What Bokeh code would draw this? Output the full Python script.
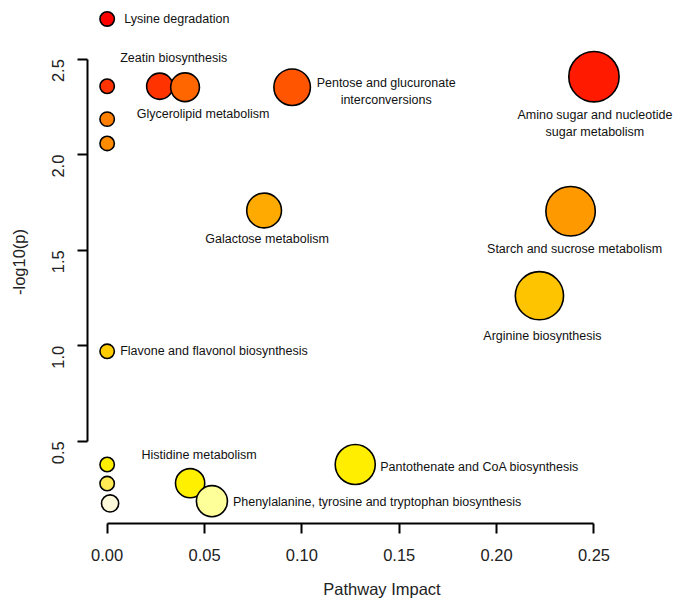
import math
from bokeh.plotting import figure
from bokeh.models import Range1d, FixedTicker, ColumnDataSource, NumeralTickFormatter
from bokeh.embed import file_html
from bokeh.resources import INLINE
from bokeh.core.properties import value

# ---- data ----
pathways = [
    "Lysine degradation", "", "", "",
    "Zeatin biosynthesis", "Glycerolipid metabolism",
    "Pentose and glucuronate\ninterconversions",
    "Amino sugar and nucleotide\nsugar metabolism",
    "Galactose metabolism", "Starch and sucrose metabolism",
    "Arginine biosynthesis", "Flavone and flavonol biosynthesis",
    "", "", "",
    "Histidine metabolism",
    "Phenylalanine, tyrosine and tryptophan biosynthesis",
    "Pantothenate and CoA biosynthesis",
]
impact = [0.0, 0.0, 0.0, 0.0,
          0.027, 0.040, 0.095, 0.250,
          0.0806, 0.238, 0.222, 0.0,
          0.0, 0.0, 0.0015,
          0.0426, 0.0538, 0.1274]
neglogp = [2.710, 2.358, 2.186, 2.059,
           2.358, 2.353, 2.353, 2.408,
           1.708, 1.704, 1.262, 0.971,
           0.379, 0.279, 0.175,
           0.281, 0.187, 0.379]
fill_colors = ["#FF0000", "#FF3300", "#FF8000", "#FF8C00",
               "#FF3300", "#FF6600", "#FF5500", "#FF1A00",
               "#FFAA00", "#FF9900", "#FFC400", "#FFCC00",
               "#FFEE00", "#FFEA55", "#FFF9DC",
               "#FFF000", "#FFFF99", "#FFEE00"]
x_ticks = [0.0, 0.05, 0.10, 0.15, 0.20, 0.25]
y_ticks = [0.5, 1.0, 1.5, 2.0, 2.5]

# ---- label layout (pixel offsets from each point) ----
label_dx = [17, 0, 0, 0, 14, 18, 94, 1, 3, 4, 3, 13, 0, 0, 0, 9, 21, 25]
label_dy = [0, 0, 0, 0, -28, 27, 4, 47, 29, 38, 40, 0, 0, 0, 0, -28, 1, 3]
label_align = ["left", "left", "left", "left", "center", "center", "center", "center",
               "center", "center", "center", "left", "left", "left", "left",
               "center", "left", "left"]

FONT = "Liberation Sans"

radius_px = [7.2 + 35.9 * math.sqrt(v) for v in impact]

pts = ColumnDataSource(dict(x=impact, y=neglogp, c=fill_colors,
                            s=[2 * r for r in radius_px]))

def label_source(align):
    idx = [i for i, t in enumerate(pathways) if t and label_align[i] == align]
    return ColumnDataSource(dict(
        x=[impact[i] for i in idx], y=[neglogp[i] for i in idx],
        t=[pathways[i] for i in idx],
        dx=[label_dx[i] for i in idx], dy=[label_dy[i] for i in idx]))

p = figure(width=676, height=600, output_backend="svg", toolbar_location=None,
           x_range=Range1d(-0.0101, 0.2924), y_range=Range1d(0.0702, 2.8067),
           min_border_left=87, min_border_right=0, min_border_top=0,
           min_border_bottom=76)
p.outline_line_color = None
p.grid.visible = False
p.background_fill_color = "white"
p.border_fill_color = "white"

p.scatter("x", "y", source=pts, size="s", fill_color="c",
          line_color="black", line_width=1.6)

for al in ("left", "center"):
    p.text("x", "y", text="t", source=label_source(al), x_offset="dx", y_offset="dy",
           text_align=al, text_baseline="middle", text_font=value(FONT),
           text_font_size="12.5px", text_color="#111111", text_line_height=1.2)

for ax in (p.xaxis[0], p.yaxis[0]):
    ax.axis_line_width = 2
    ax.axis_line_color = "black"
    ax.major_tick_line_width = 2
    ax.major_tick_line_color = "black"
    ax.major_tick_out = 10
    ax.major_tick_in = 0
    ax.minor_tick_line_color = None
    ax.major_label_text_font = FONT
    ax.major_label_text_font_size = "16.5px"
    ax.major_label_text_color = "#222222"
    ax.axis_label_text_font = FONT
    ax.axis_label_text_font_size = "16.5px"
    ax.axis_label_text_font_style = "normal"
    ax.axis_label_text_color = "#222222"

p.xaxis.bounds = (x_ticks[0], x_ticks[-1])
p.xaxis.ticker = FixedTicker(ticks=x_ticks)
p.xaxis.formatter = NumeralTickFormatter(format="0.00")
p.xaxis.axis_label = "Pathway Impact"
p.xaxis.major_label_standoff = 15
p.xaxis.axis_label_standoff = 16

p.yaxis.bounds = (y_ticks[0], y_ticks[-1])
p.yaxis.ticker = FixedTicker(ticks=y_ticks)
p.yaxis.formatter = NumeralTickFormatter(format="0.0")
p.yaxis.axis_label = "-log10(p)"
p.yaxis.major_label_orientation = math.pi / 2
p.yaxis.major_label_standoff = 19
p.yaxis.axis_label_standoff = 16

open("out.html", "w").write(file_html(p, INLINE))
